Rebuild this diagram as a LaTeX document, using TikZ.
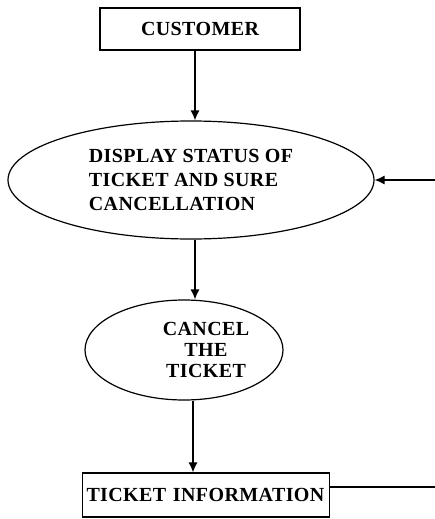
\documentclass[tikz,border=0pt]{standalone}
\usepackage{fontspec}
\setmainfont{Liberation Serif}[LetterSpace=2]
\usetikzlibrary{shapes.geometric, arrows.meta}

\begin{document}
\begin{tikzpicture}[auto, line width=1.2pt, >={Latex[length=10pt,width=9pt]},
  font=\bfseries\fontsize{20}{24}\selectfont]
  \tikzstyle{block} = [draw, rectangle, inner sep=2pt]
  \tikzstyle{proc} = [draw, ellipse, inner sep=0pt]
  \tikzstyle{tmp} = [coordinate]
  \useasboundingbox (0,0) rectangle (434pt,-519pt);
  \node [block, minimum width=200pt, minimum height=42pt] (customer) at (200pt,-29pt) {CUSTOMER};
  \node [proc, node distance=151pt, below of=customer, xshift=-9pt,
    minimum width=366pt, minimum height=118pt, align=left] (display) {DISPLAY STATUS OF\\TICKET AND SURE\\CANCELLATION};
  \node [proc, node distance=170pt, below of=display, xshift=-7pt,
    minimum width=198pt, minimum height=100pt,
    label={[align=center, font=\bfseries\fontsize{20}{21}\selectfont, xshift=22pt]center:{CANCEL\\THE\\TICKET}}] (cancel) {};
  \node [block, node distance=145pt, below of=cancel, xshift=22pt,
    minimum width=247pt, minimum height=44pt, text width=239pt, align=left] (tinfo) {TICKET INFORMATION};
  \node [tmp] (dsin) at ([xshift=60pt]display.east) {};
  \node [tmp] (tiout) at ([xshift=105pt,yshift=8pt]tinfo.east) {};

  \draw [->] ([xshift=-5pt]customer.south) -- ([xshift=-5pt]customer.south |- display.north);
  \draw [->] (dsin) -- (display.east);
  \draw [->] ([xshift=4pt]display.south) -- ([xshift=4pt]display.south |- cancel.north);
  \draw [->] ([xshift=9pt]cancel.south) -- ([xshift=9pt]cancel.south |- tinfo.north);
  \draw (tiout) -- (tiout -| tinfo.east);
\end{tikzpicture}
\end{document}
